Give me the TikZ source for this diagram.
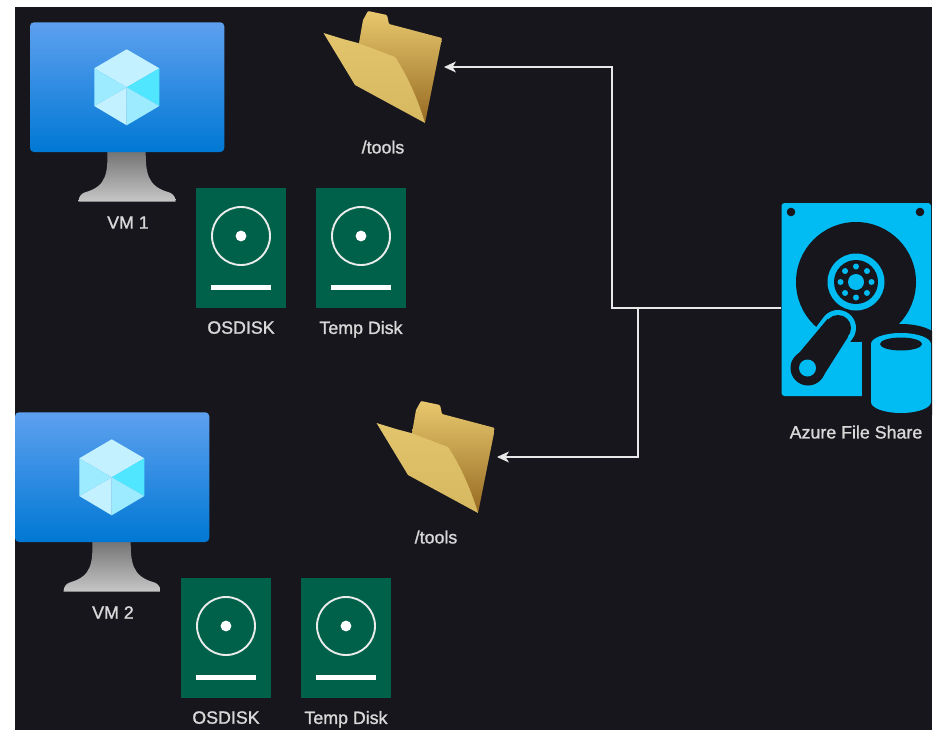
\documentclass[tikz,border=0pt]{standalone}
\usepackage{fontspec}
\setmainfont{Liberation Sans}
\newfontfamily\lblfont{Liberation Sans}[FakeBold=1.3]
\usetikzlibrary{arrows.meta}
\definecolor{bgdark}{HTML}{17161D}
\definecolor{diskgreen}{HTML}{00614A}
\definecolor{hddcyan}{HTML}{00BCF2}
\definecolor{labelgrey}{HTML}{D8D8D8}
\definecolor{linegrey}{HTML}{E8E8E8}
\tikzset{
  lbl/.style={text=labelgrey,font=\lblfont\fontsize{17.8}{20}\selectfont,inner sep=0pt,anchor=center,text depth=0pt},
  iconbox/.style={inner sep=0pt,outer sep=0pt,minimum width=#1},
  conn/.style={draw=linegrey,line width=1.1pt,-{Stealth[length=12pt,width=11pt,inset=3.5pt]}},
}
\newcommand{\vmicon}[4]{% dx, dy, name, text
  \begin{scope}[shift={(#1,#2)}]
    \shade[top color=black!55,bottom color=black!22]
      (107.5,151) .. controls (107.5,172) and (107,186) .. (86,192)
      .. controls (82,193) and (78.5,196) .. (78.5,201.7) -- (175.7,201.7)
      .. controls (175.7,196) and (172,193) .. (168,192)
      .. controls (147,186) and (145.7,172) .. (145.7,151) -- cycle;
    \shade[rounded corners=4pt,top color={rgb,255:red,94;green,160;blue,239},bottom color={rgb,255:red,0;green,120;blue,212}]
      (30,22.3) rectangle (224.3,152);
    \fill[fill={rgb,255:red,195;green,241;blue,255}] (126.7,49.3) -- (159.3,68.3) -- (126.7,87.3) -- (94.3,68.3) -- cycle;
    \fill[fill={rgb,255:red,80;green,230;blue,255}] (126.7,87.3) -- (159.3,68.3) -- (159.3,106) -- cycle;
    \fill[fill={rgb,255:red,156;green,235;blue,255}] (126.7,87.3) -- (159.3,106) -- (126.7,125.3) -- cycle;
    \fill[fill={rgb,255:red,195;green,241;blue,255}] (126.7,87.3) -- (126.7,125.3) -- (94.3,106) -- cycle;
    \fill[fill={rgb,255:red,156;green,235;blue,255}] (126.7,87.3) -- (94.3,106) -- (94.3,68.3) -- cycle;
    \node[lbl] (#3) at (128,222.5) {#4};
  \end{scope}
}
\newcommand{\diskicon}[4]{% dx, dy, name, text
  \begin{scope}[shift={(#1,#2)}]
    \fill[diskgreen] (195.7,187.5) rectangle (286,307.7);
    \draw[white!92!black,line width=1.9pt] (241,236) circle[radius=29];
    \fill[white] (241,236) circle[radius=5.4];
    \fill[white] (210.7,284.5) rectangle (271,290);
    \node[lbl] (#3) at (241,327.5) {#4};
  \end{scope}
}
\newcommand{\foldericon}[4]{% dx, dy, name, text
  \begin{scope}[shift={(#1,#2)}]
    \shade[shading angle=15,top color={rgb,255:red,232;green,200;blue,110},middle color={rgb,255:red,222;green,184;blue,92},bottom color={rgb,255:red,150;green,106;blue,34},rounded corners=1pt]
      (368,11) -- (387,15) -- (389,24) -- (442,38) -- (425,123) -- (359,60) -- (359,43) -- (363,20) -- cycle;
    \shade[shading angle=20,top color={rgb,255:red,226;green,196;blue,108},bottom color={rgb,255:red,214;green,184;blue,96}]
      (323.5,33) -- (343,39) -- (358,43) -- (395,57)
      .. controls (409,78) and (419,103) .. (425,123)
      -- (355,85) -- cycle;
    \node[iconbox,minimum width=120pt,minimum height=114pt] (#3) at (384,67) {};
    \node[lbl] (#3lab) at (383,147) {#4};
  \end{scope}
}
\begin{document}
\begin{tikzpicture}[x=1pt,y=-1pt]
  \useasboundingbox (0,0) rectangle (943,739);
  \fill[white] (0,0) rectangle (943,739);
  \fill[bgdark] (15,7) rectangle (932,730);

  % virtual machines
  \vmicon{0}{0}{vmone}{VM 1}
  \vmicon{-15}{390}{vmtwo}{VM 2}
  % disks
  \diskicon{0}{0}{osone}{OSDISK}
  \diskicon{120}{0}{tempone}{Temp Disk}
  \diskicon{-15}{390}{ostwo}{OSDISK}
  \diskicon{105}{390}{temptwo}{Temp Disk}
  % folders
  \foldericon{0}{0}{folderone}{/tools}
  \foldericon{53}{390}{foldertwo}{/tools}

  % hard disk
  \begin{scope}
    \clip (15,7) rectangle (932,730);
    \fill[hddcyan,rounded corners=3pt] (781.5,203) -- (931,203) -- (931,396) -- (781.5,396) -- cycle;
    \fill[bgdark] (791,212) circle[radius=4.3] (920,212) circle[radius=4.3];
    \fill[bgdark] (856,282) circle[radius=60];
    \fill[hddcyan] (856,282) circle[radius=28.5];
    \fill[bgdark] (856,282) circle[radius=22];
    \fill[hddcyan] (856,282) circle[radius=8];
    \foreach \a in {0,45,...,315}
      \fill[hddcyan] (856,282) ++(\a:15.5) circle[radius=3];
    % arm
    \draw[hddcyan,line width=36pt,line cap=round] (808,368) -- (838,328);
    \fill[bgdark] (808,368) circle[radius=17.5];
    \fill[bgdark] (791.5,362) -- (827.5,319) -- (848,337) -- (822,378) -- cycle;
    \fill[bgdark] (838,328) circle[radius=13];
    \fill[hddcyan] (807.5,368) circle[radius=8.5];
    % cylinder
    \draw[bgdark,line width=18pt,fill=hddcyan]
      (871,344) arc[start angle=180,end angle=360,x radius=30,y radius=11]
      -- (931,402) arc[start angle=0,end angle=180,x radius=30,y radius=11] -- cycle;
    \fill[hddcyan]
      (871,344) arc[start angle=180,end angle=360,x radius=30,y radius=11]
      -- (931,402) arc[start angle=0,end angle=180,x radius=30,y radius=11] -- cycle;
    \fill[bgdark] (901,344) ellipse[x radius=21,y radius=6.5];
  \end{scope}
  \node[iconbox,minimum width=150pt,minimum height=210pt] (share) at (856,308) {};
  \node[lbl] (sharelab) at (856,432) {Azure File Share};

  % connectors
  \coordinate (busone) at (612,0);
  \coordinate (bustwo) at (638,0);
  \draw[conn] (share.west) -- (share.west -| busone) -- (busone |- folderone.east) -- (folderone.east);
  \draw[conn] (share.west) -- (share.west -| bustwo) -- (bustwo |- foldertwo.east) -- (foldertwo.east);
\end{tikzpicture}
\end{document}
